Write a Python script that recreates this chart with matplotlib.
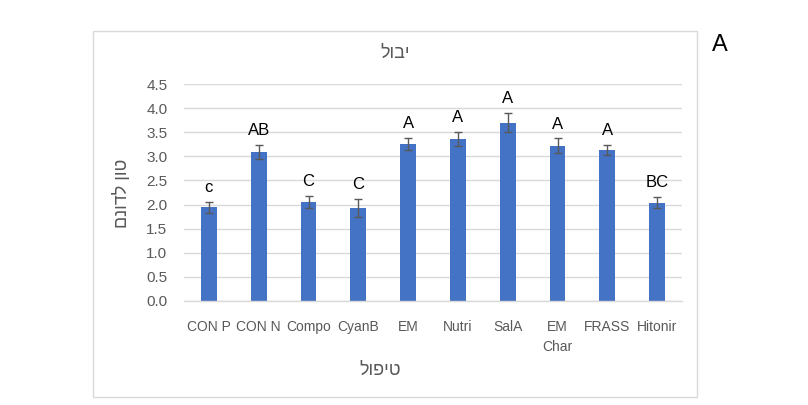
"""Yield per treatment bar chart (panel A)."""

import matplotlib
matplotlib.use("Agg")
import matplotlib.pyplot as plt
from matplotlib.patches import Rectangle

# data
treatments = ["CON P", "CON N", "Compo", "CyanB", "EM", "Nutri", "SalA", "EM\nChar", "FRASS", "Hitonir"]
yield_ton = [1.94, 3.09, 2.05, 1.93, 3.26, 3.36, 3.70, 3.22, 3.13, 2.04]
yield_err = [0.12, 0.15, 0.12, 0.19, 0.12, 0.15, 0.19, 0.15, 0.11, 0.11]
groups = ["c", "AB", "C", "C", "A", "A", "A", "A", "A", "BC"]
y_ticks = [0.0, 0.5, 1.0, 1.5, 2.0, 2.5, 3.0, 3.5, 4.0, 4.5]

BLUE = "#4472c4"
GRID = "#d9d9d9"
TICK = "#595959"

plt.rcParams["font.family"] = ["Liberation Sans", "DejaVu Sans"]

W, H = 808, 405
fig = plt.figure(figsize=(W / 100, H / 100), dpi=100)
ax = fig.add_axes([184 / W, 1 - 301 / H, (682 - 184) / W, (301 - 84) / H])

x = range(len(treatments))
ax.bar(x, yield_ton, width=0.32, color=BLUE, zorder=2)
ax.errorbar(x, yield_ton, yerr=yield_err, fmt="none", ecolor=TICK, elinewidth=1.0,
            capsize=3, capthick=1.0, zorder=3)
for i, (v, e, g) in enumerate(zip(yield_ton, yield_err, groups)):
    ax.annotate(g, (i, v + e), xytext=(0, 5), textcoords="offset points",
                ha="center", va="bottom", fontsize=12, color="black")

ax.set_xlim(-0.5, len(treatments) - 0.5)
ax.set_ylim(0, 4.5)
ax.set_yticks(y_ticks)
ax.set_yticklabels([f"{t:.1f}" for t in y_ticks])
ax.set_xticks(list(x))
ax.set_xticklabels(treatments, linespacing=1.55)
ax.tick_params(axis="y", length=0, labelsize=11, colors=TICK, pad=12)
ax.tick_params(axis="x", length=0, labelsize=10, colors=TICK, pad=14)
ax.yaxis.grid(True, color=GRID, linewidth=1.0, zorder=0)
ax.set_axisbelow(True)
for side in ("left", "right", "top"):
    ax.spines[side].set_visible(False)
ax.spines["bottom"].set_color(GRID)
ax.spines["bottom"].set_linewidth(1.0)

# Hebrew strings are stored in visual (reversed) order since matplotlib has no bidi
fig.text(395 / W, 1 - 53 / H, "לובי", ha="center", va="center", fontsize=13, color=TICK)
fig.text(122 / W, 1 - 193 / H, "םנודל ןוט", ha="center", va="center", rotation=90,
         fontsize=13, color=TICK)
fig.text(380 / W, 1 - 370 / H, "לופיט", ha="center", va="center", fontsize=13, color=TICK)
fig.text(720 / W, 1 - 45 / H, "A", ha="center", va="center", fontsize=17, color="black")

# chart area border
fig.patches.append(Rectangle((93 / W, 1 - 397 / H), (697 - 93) / W, (397 - 31) / H,
                             transform=fig.transFigure, fill=False, edgecolor=GRID,
                             linewidth=1.0))

fig.savefig("out.png", dpi=100, facecolor="white")
